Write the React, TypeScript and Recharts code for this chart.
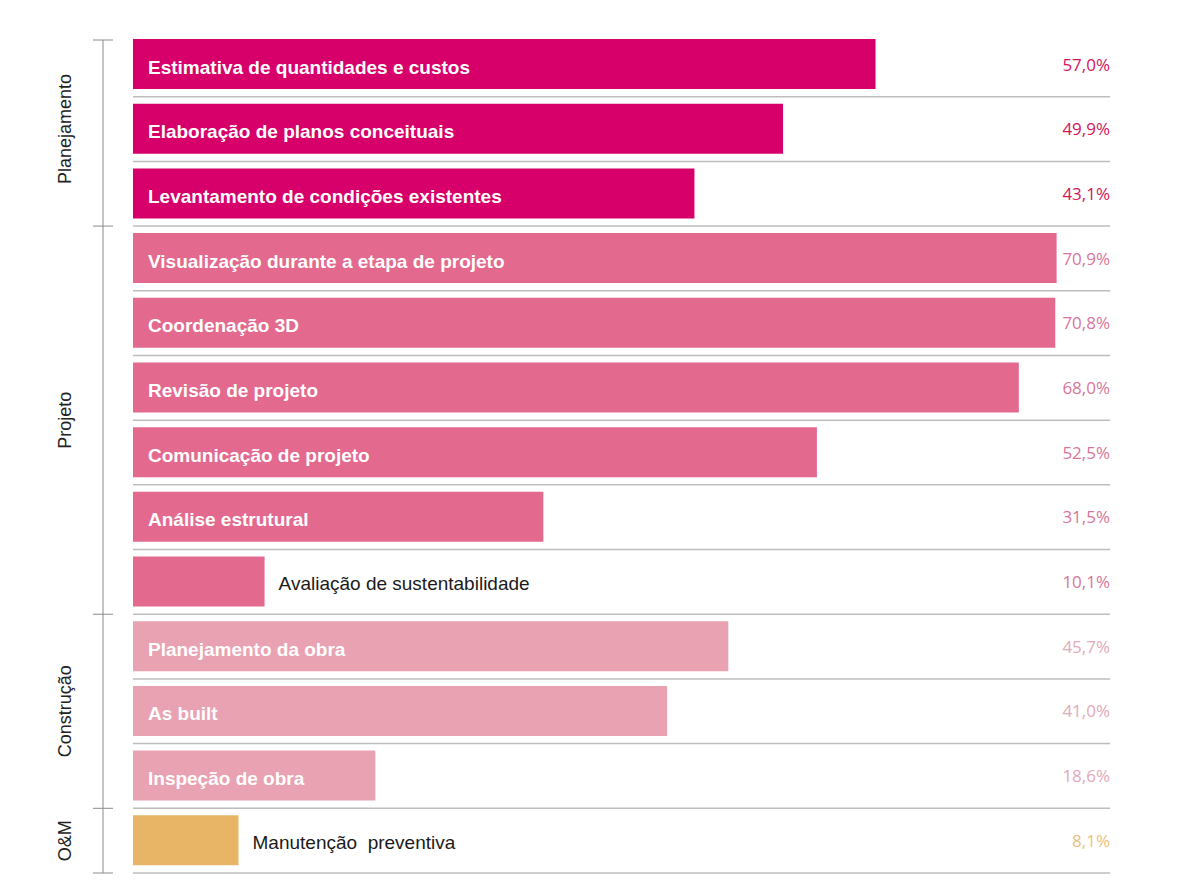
import React from 'react'
import { BarChart, Bar, XAxis, YAxis, Cell, LabelList } from 'recharts'

// categories, values and groups
const names = [
  'Estimativa de quantidades e custos',
  'Elaboração de planos conceituais',
  'Levantamento de condições existentes',
  'Visualização durante a etapa de projeto',
  'Coordenação 3D',
  'Revisão de projeto',
  'Comunicação de projeto',
  'Análise estrutural',
  'Avaliação de sustentabilidade',
  'Planejamento da obra',
  'As built',
  'Inspeção de obra',
  'Manutenção  preventiva',
]
const values = [57.0, 49.9, 43.1, 70.9, 70.8, 68.0, 52.5, 31.5, 10.1, 45.7, 41.0, 18.6, 8.1]
const groupOf = [0, 0, 0, 1, 1, 1, 1, 1, 1, 2, 2, 2, 3]
const groups = ['Planejamento', 'Projeto', 'Construção', 'O&M']

const barColors = ['#d7006b', '#e3698e', '#e9a2b2', '#e8b465']
const valueColors = ['#d4145a', '#d9759a', '#e3a9bb', '#ecc07c']

const data = names.map((name, i) => ({ name, value: values[i], group: groupOf[i] }))

const W = 1179
const H = 890
const MT = 32
const MB = 17
const LEFT = 133
const PLOT_RIGHT = 1110
const BAND = (H - MT - MB) / names.length

const fmt = (v: number) => v.toFixed(1).replace('.', ',') + '%'

// left axis tick: row separators, group brackets and group titles
function LeftTick(props: any) {
  const { y, index } = props
  const top = y - BAND / 2
  const bottom = y + BAND / 2
  const g = groupOf[index]
  const isStart = index === 0 || groupOf[index - 1] !== g
  const count = groupOf.filter((x) => x === g).length
  const gTop = index === 0 ? top + 8 : top
  const gBottom = top + count * BAND
  const cy = (top + gBottom) / 2
  return (
    <g>
      <line x1={LEFT} x2={PLOT_RIGHT} y1={bottom} y2={bottom} stroke="#bdbdbd" strokeWidth={1.5} />
      {isStart && (
        <g>
          <line x1={103} x2={103} y1={gTop} y2={gBottom} stroke="#8c8c8c" strokeWidth={1} />
          <line x1={93} x2={113} y1={gTop} y2={gTop} stroke="#8c8c8c" strokeWidth={1} />
          {index === names.length - 1 && (
            <line x1={93} x2={113} y1={gBottom} y2={gBottom} stroke="#8c8c8c" strokeWidth={1} />
          )}
          <text
            x={65}
            y={cy}
            transform={`rotate(-90, 65, ${cy})`}
            textAnchor="middle"
            dominantBaseline="central"
            fontFamily="Liberation Sans, Arial, sans-serif"
            fontSize={18}
            fill="#222"
          >
            {groups[g]}
          </text>
        </g>
      )}
    </g>
  )
}

function BarLabel(props: any) {
  const { x, y, width, height, index } = props
  const v = values[index]
  const cy = y + height / 2
  const outside = v < 12
  return (
    <g>
      {outside ? (
        <text x={x + width + 14} y={cy + 2} dominantBaseline="central" fontFamily="Liberation Sans, Arial, sans-serif" fontSize={19} fill="#1a1a1a" style={{ whiteSpace: 'pre' }}>
          {names[index]}
        </text>
      ) : (
        <text x={x + 15} y={cy + 3} dominantBaseline="central" fontFamily="Liberation Sans, Arial, sans-serif" fontWeight="bold" fontSize={19} fill="#ffffff">
          {names[index]}
        </text>
      )}
      <text x={PLOT_RIGHT} y={cy} textAnchor="end" dominantBaseline="central" fontFamily="Open Sans, sans-serif" fontSize={17} fill={valueColors[groupOf[index]]}>
        {fmt(v)}
      </text>
    </g>
  )
}

export default function App() {
  return (
    <div style={{ position: 'absolute', left: 0, top: 0, width: W, height: H, background: '#fff' }}>
      <BarChart
        width={W}
        height={H}
        data={data}
        layout="vertical"
        margin={{ top: MT, right: W - PLOT_RIGHT, bottom: MB, left: 0 }}
      >
        <XAxis type="number" domain={[0, 75]} hide />
        <YAxis
          type="category"
          dataKey="name"
          width={LEFT}
          axisLine={false}
          tickLine={false}
          interval={0}
          tick={<LeftTick />}
        />
        <Bar dataKey="value" barSize={50} isAnimationActive={false}>
          {data.map((d, i) => (
            <Cell key={i} fill={barColors[d.group]} />
          ))}
          <LabelList dataKey="value" content={<BarLabel />} />
        </Bar>
      </BarChart>
    </div>
  )
}
